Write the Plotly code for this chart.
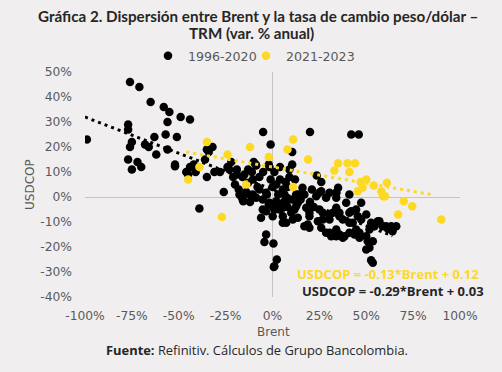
import plotly.graph_objects as go

# ---- data (percent units) ----
black_x = [-76, -71, -65, -58, -55, -56, -49, -44, -77, -77, -99, -57, -51, -63, -75, -76, -68, -66, -56, -62,
           -77, -72, -70, -75, -52, -44, -46,
           -5, -1, -35, -32, -34, 10.5, -22, -10, -9, -42, -41, -35, -31, -28, -23, -19, -16, -10.5, -5, -1.6, 1,
           4, 9, -26, -16, -7, -3, 0, 5.5, 12.6, -39, -36, -15, -13, -8.7, -52, -45,
           20, 42, 46, 10.5, 23.6, 26, 35, 34, 26, 28.6, 12, 16, 14,
           -15.9, -8.7, -1.6, 3.7, 0.1, 7.3, 10.8, 12.6, -6.1, -17.6, -3.4, 9, -5.2, 5.5, -3.4, -4.3, 0.5, 2.3, 1,
           -10.5, -5.2, 2, 6.4, 10.8, 17, 23.3, 30.4, 34, 41, 47.3, -3.4, 0.2, 5.5, 5.5, 10, 13.5, 18.8, 19.7, 25,
           26.8, 30.4, 34, 35.7, 41, 44.6, 42.8, 47.3, 50, 52.6, 57, 58.8, 63.3, 64.2, 61.5, 30.4, 34, 37.5, 41,
           44.6, 46.4, 50, 50.8, 50, 52.6, 53.5, 0.7,
           13.5, 11.7, 18, 19.7, 17, 19.7, 24.2, 26, 28.6, 31.3, 34, 35.7, 38.4, 43.7, 46.4, 51.7, 54.4, 56.2,
           60.6, 66, 64, 53.5, 51.7, 25, 34, 39.3, 42, 45.5, 32.2, 26.8, 30.4, 37.5, 41, 35.7,
           2, 3, 6, 8, 1, -1, 7, 3, -2, 8, 15, 20, 22, 21, -12, -14, -8, -20, -18, -16.7, -12, -15.6,
           -21, -24, -19, -11, -7, -13, -2, 4, 9]
black_y = [46, 44, 38, 36, 34, 30, 32, 31, 29, 27, 23, 25, 24, 24, 22, 20, 21, 20, 19, 17,
           15, 14, 12, 11, 13, 12, 10,
           26, 21, 19, 20, 18, 18, 14, 14, 13, 13, 10, 8, 10, 10, 11, 9, 8, 7, 10, 12, 10,
           7, 8, 2, 0, 3, 1, 4, 3, 1, -4.6, 15, 9, 5.7, 12.6, 12.3, 9,
           26, 25, 25, 13, 8.6, 6, 3.7, 1.7, 2.3, -0.3, 7, 3.7, 1,
           -1, -0.3, -2.3, -5, -7.7, -10.3, -9, -3.7, -8.3, 1, 1.7, -1, -5, -7.7, -15, -18, -18.6, -25, -27.7,
           1, -1, -1.7, 1, -1, 1, 0.3, 1.7, -0.3, 1, -2.3, -5.7, -3.7, -4.3, -10.3, -6.3, -8.3, -11, -6.3, -5,
           -9, -7, -4.3, -7.7, -6.3, -5, -10.3, -9, -7, -10.3, -9.7, -11.7, -11.7, -12.7, -12.7, -14.3, -15.7, -16.3, -14.3,
           -13, -16.3, -15.7, -17.7, -21, -25.3, -26.3, -28,
           -2.3, -5, -4.3, -7.7, -11.7, -12.3, -9.7, -12.3, -14.3, -15.7, -13, -15, -15.7, -15, -14.3, -13, -11.7, -9.7,
           -11.7, -11.7, -13.7, -17.7, -20.3, 1.7, 1.7, -2.3, -5.7, -7.7, -6.3, -6.3, -9, -9, -10.3, -6.3,
           5, 1, -2, 4, -5, 7, 6, -3, -3, -4, -1, -2, -4, 3, -2, 2, 4, 5, 3, 0.3, 0.8, -1.7,
           8, 12, 11, 10, 8, 11, 13, 12, 11]

yellow_x = [-45, -39, -35, -27, -24, -14, -12, -2, 8, 11, 11, 19, 33, 35, 40, 44, 41, 47, 50, 54,
            61, 45.5, 48, 58, 59, 60, 70, 74.5, 67, 90]
yellow_y = [7, 12, 22, -8, 17, 5, 20, 16, 19, 23, 4, 15, 10.6, 13.5, 13.5, 13.5, 10, 6, 7, 4.6,
            5.7, 2.3, 3.7, 2.2, 0.3, 0.3, -1.7, -3.7, -7, -9]

series_names = ["1996-2020", "2021-2023"]
# trendline coefficients (fractions, from the chart labels) and x-extent (percent)
trend_black = {"slope": -0.29, "intercept": 0.03, "x": [-100, 64]}
trend_yellow = {"slope": -0.13, "intercept": 0.12, "x": [-46, 86]}

x_ticks = [-100, -75, -50, -25, 0, 25, 50, 75, 100]
x_tick_labels = ["-100%", "-75%", "-50%", "-25%", "0%", "25%", "50%", "75%", "100%"]
y_ticks = [-40, -30, -20, -10, 0, 10, 20, 30, 40, 50]
y_tick_labels = ["-40%", "-30%", "-20%", "-10%", "0%", "10%", "20%", "30%", "40%", "50%"]

BLACK = "#000000"
YELLOW = "#FDD924"
BG = "#F0EEEF"
GREY_TXT = "#595959"
DARK = "#262626"
TITLE_FONT = "Lato"

# plot area in pixels
L, R, T, B = 85, 42, 72, 75
PW, PH = 502 - L - R, 372 - T - B


def px(xp):
    return (xp - L) / PW


def py(yp):
    return (372 - B - yp) / PH


def trend_line(t):
    xs = t["x"]
    return xs, [t["slope"] * x + t["intercept"] * 100 for x in xs]


fig = go.Figure()
fig.add_trace(go.Scatter(x=black_x, y=black_y, mode="markers", name=series_names[0], legend="legend",
                         marker=dict(color=BLACK, size=8.5, line=dict(width=0))))
fig.add_trace(go.Scatter(x=yellow_x, y=yellow_y, mode="markers", name=series_names[1], legend="legend2",
                         marker=dict(color=YELLOW, size=8.5, line=dict(width=0))))
bx, by = trend_line(trend_black)
fig.add_trace(go.Scatter(x=bx, y=by, mode="lines", showlegend=False, hoverinfo="skip",
                         line=dict(color=BLACK, width=3, dash="3px,4px")))
yx, yy = trend_line(trend_yellow)
fig.add_trace(go.Scatter(x=yx, y=yy, mode="lines", showlegend=False, hoverinfo="skip",
                         line=dict(color=YELLOW, width=3, dash="3px,4px")))

tick_font = dict(family="DejaVu Sans", size=12.3, color=GREY_TXT)
fig.update_xaxes(range=[-100, 100], tickmode="array", tickvals=x_ticks, ticktext=x_tick_labels, showgrid=False,
                 zeroline=True, zerolinecolor="#C4C4C4", zerolinewidth=1.2, showline=False,
                 ticks="", tickfont=tick_font, ticklabelstandoff=10, automargin=False)
fig.update_yaxes(range=[-40, 50], tickmode="array", tickvals=y_ticks, ticktext=y_tick_labels, showgrid=False,
                 zeroline=True, zerolinecolor="#C4C4C4", zerolinewidth=1.2, showline=False,
                 ticks="", tickfont=tick_font, ticklabelstandoff=12, automargin=False)

ann = []
ann.append(dict(text="<b>Gráfica 2. Dispersión entre Brent y la tasa de cambio peso/dólar –</b>",
                x=px(257.5), y=py(16), font=dict(family=TITLE_FONT, size=15.2, color=DARK)))
ann.append(dict(text="<b>TRM (var. % anual)</b>",
                x=px(251), y=py(33), font=dict(family=TITLE_FONT, size=15.2, color=DARK)))
ann.append(dict(text="USDCOP", x=px(30), y=py(185), textangle=-90,
                font=dict(family="DejaVu Sans", size=12, color=GREY_TXT)))
ann.append(dict(text="Brent", x=px(273), y=py(332), font=dict(family="DejaVu Sans", size=12, color=GREY_TXT)))
ann.append(dict(text="<b>USDCOP = -0.13*Brent + 0.12</b>", x=px(388), y=py(274),
                font=dict(family="Open Sans", size=13, color=YELLOW)))
ann.append(dict(text="<b>USDCOP = -0.29*Brent + 0.03</b>", x=px(392.5), y=py(291),
                font=dict(family="Open Sans", size=13, color=DARK)))
ann.append(dict(text="<b>Fuente:</b> Refinitiv. Cálculos de Grupo Bancolombia.", x=px(256.5), y=py(350),
                font=dict(family="Open Sans", size=12.9, color=DARK)))
for a in ann:
    a.update(xref="paper", yref="paper", showarrow=False, xanchor="center", yanchor="middle", borderpad=0)

leg_common = dict(orientation="h", xanchor="left", yanchor="middle", y=py(56),
                  font=dict(family="DejaVu Sans", size=12.6, color=GREY_TXT),
                  bgcolor="rgba(0,0,0,0)", itemwidth=30)
fig.update_layout(
    width=502, height=372,
    margin=dict(l=L, r=R, t=T, b=B, autoexpand=False),
    paper_bgcolor=BG, plot_bgcolor=BG,
    showlegend=True,
    legend=dict(leg_common, x=px(148)),
    legend2=dict(leg_common, x=px(246)),
    annotations=ann,
)

fig.write_html("out.html", config={"displayModeBar": False},
               post_script="document.body.style.margin='0';document.body.style.overflow='hidden';")
